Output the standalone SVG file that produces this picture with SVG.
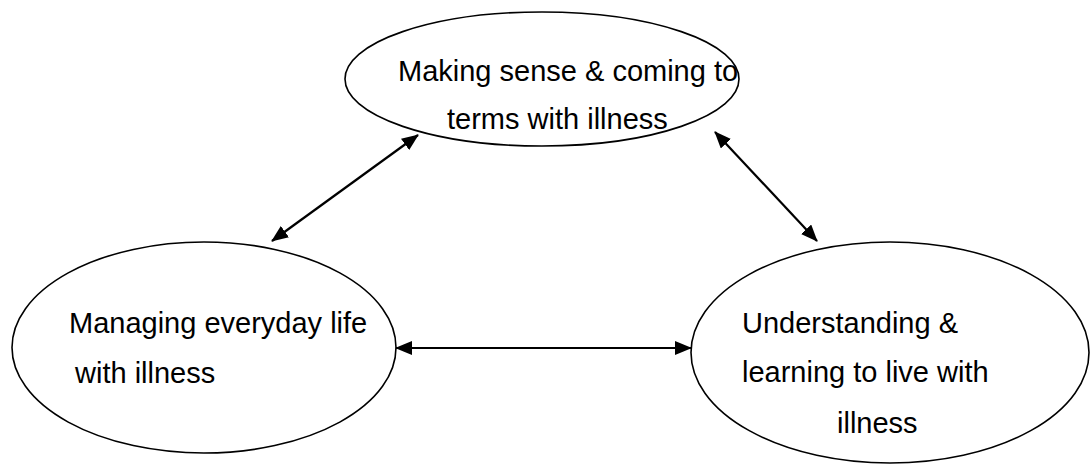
<svg xmlns="http://www.w3.org/2000/svg" width="1092" height="465" viewBox="0 0 1092 465">
  <style>
    .node { fill: #ffffff; stroke: #000000; stroke-width: 1.6; }
    .label { font-family: "Liberation Sans", Arial, sans-serif; font-size: 29px; fill: #000000; }
    .link { stroke: #000000; stroke-width: 2.2; fill: none; marker-start: url(#head); marker-end: url(#head); }
  </style>
  <defs>
    <!-- filled triangular arrowhead shared by both ends of every connector -->
    <marker id="head" markerUnits="userSpaceOnUse" markerWidth="17" markerHeight="14" viewBox="0 0 17 14" refX="16" refY="7" orient="auto-start-reverse">
      <path d="M0,0 L17,7 L0,14 Z" fill="#000000"/>
    </marker>
  </defs>
  <rect width="1092" height="465" fill="#ffffff"/>

  <g id="node-making-sense">
    <ellipse class="node" cx="542" cy="79" rx="197" ry="67"/>
    <text class="label" x="398" y="81">Making sense &amp; coming to</text>
    <text class="label" x="447" y="129">terms with illness</text>
  </g>

  <g id="node-managing">
    <ellipse class="node" cx="204" cy="347.5" rx="192" ry="105.5"/>
    <text class="label" x="69" y="333">Managing everyday life</text>
    <text class="label" x="75" y="383">with illness</text>
  </g>

  <g id="node-understanding">
    <ellipse class="node" cx="890" cy="352.5" rx="199" ry="110.5"/>
    <text class="label" x="742" y="333">Understanding &amp;</text>
    <text class="label" x="742" y="382">learning to live with</text>
    <text class="label" x="837" y="433">illness</text>
  </g>

  <g id="connectors">
    <line class="link" x1="418" y1="135" x2="272" y2="241"/>
    <line class="link" x1="715" y1="132" x2="817" y2="241"/>
    <line class="link" x1="396" y1="348" x2="691" y2="348"/>
  </g>
</svg>
